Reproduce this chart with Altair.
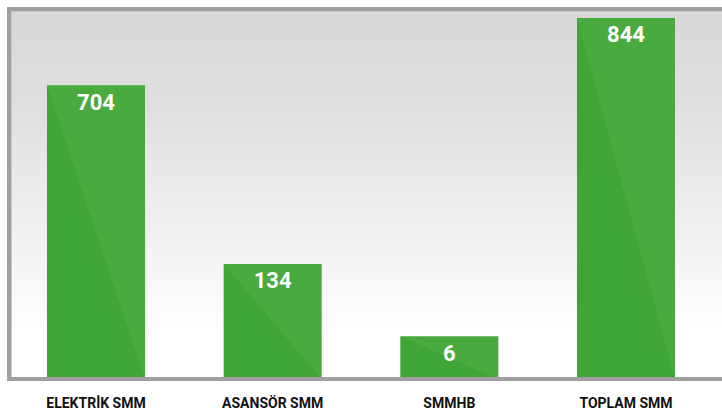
import altair as alt
import pandas as pd

categories = ["ELEKTRİK SMM", "ASANSÖR SMM", "SMMHB", "TOPLAM SMM"]
values = [704, 134, 6, 844]
# bar heights as drawn in the reference (the bars are not drawn to scale there)
shown_heights = [687, 269, 100, 844]

df = pd.DataFrame({"cat": categories, "value": values, "shown": shown_heights})

W, H = 704, 370
FONT = "Roboto, Liberation Sans, sans-serif"
BORDER = "#a0a0a0"

x_enc = alt.X(
    "cat:N",
    sort=categories,
    scale=alt.Scale(paddingInner=0.445, paddingOuter=0.215),
    axis=alt.Axis(
        title=None, domain=False, ticks=False, tickSize=0, labelAngle=0,
        labelFont=FONT, labelFontSize=14, labelFontWeight="bold",
        labelColor="#111111", labelBaseline="alphabetic", labelPadding=28,
    ),
)
y_enc = alt.Y("shown:Q", scale=alt.Scale(domain=[0, 865], nice=False, zero=True), axis=None)

one = pd.DataFrame({"k": [0]})

bg = alt.Chart(one).mark_rect(
    fill=alt.LinearGradient(
        gradient="linear",
        stops=[
            alt.GradientStop(offset=0, color="#d8d8d8"),
            alt.GradientStop(offset=0.25, color="#dfdfdf"),
            alt.GradientStop(offset=0.88, color="#ffffff"),
            alt.GradientStop(offset=1, color="#ffffff"),
        ],
        x1=0, x2=0, y1=0, y2=1,
    )
).encode(x=alt.value(0), x2=alt.value(W + 20), y=alt.value(0), y2=alt.value(H))

inner_top = alt.Chart(one).mark_rule(color="#c9c9c9", strokeWidth=1).encode(
    x=alt.value(0), x2=alt.value(W + 20), y=alt.value(2.5)
)
inner_left = alt.Chart(one).mark_rule(color="#c9c9c9", strokeWidth=1).encode(
    x=alt.value(2.5), y=alt.value(0), y2=alt.value(H)
)
top_rule = alt.Chart(one).mark_rule(color=BORDER, strokeWidth=4).encode(
    x=alt.value(-2), x2=alt.value(W + 20), y=alt.value(0)
)
left_rule = alt.Chart(one).mark_rule(color=BORDER, strokeWidth=4).encode(
    x=alt.value(0), y=alt.value(-2), y2=alt.value(H)
)

bars = alt.Chart(df).mark_bar(
    fill=alt.LinearGradient(
        gradient="linear",
        stops=[
            alt.GradientStop(offset=0, color="#3fa536"),
            alt.GradientStop(offset=0.5, color="#3fa536"),
            alt.GradientStop(offset=0.5, color="#49aa40"),
            alt.GradientStop(offset=1, color="#49aa40"),
        ],
        x1=0, y1=1, x2=1, y2=0,
    )
).encode(x=x_enc, y=y_enc)

labels = alt.Chart(df).mark_text(
    baseline="alphabetic", dy=24.5, color="white", font=FONT, fontSize=22, fontWeight="bold"
).encode(x=alt.X("cat:N", sort=categories), y=alt.Y("shown:Q"), text=alt.Text("value:Q"))

bottom_rule = alt.Chart(one).mark_rule(color=BORDER, strokeWidth=4).encode(
    x=alt.value(-2), x2=alt.value(W + 20), y=alt.value(H)
)

chart = alt.layer(
    bg, inner_top, inner_left, top_rule, left_rule, bars, labels, bottom_rule
).properties(
    width=W, height=H,
    padding={"left": 9, "top": 9, "right": 9, "bottom": 33},
    autosize="none",
    background="white",
).configure_view(strokeWidth=0)

chart.save("out.html", embed_options={"renderer": "svg", "actions": False})
